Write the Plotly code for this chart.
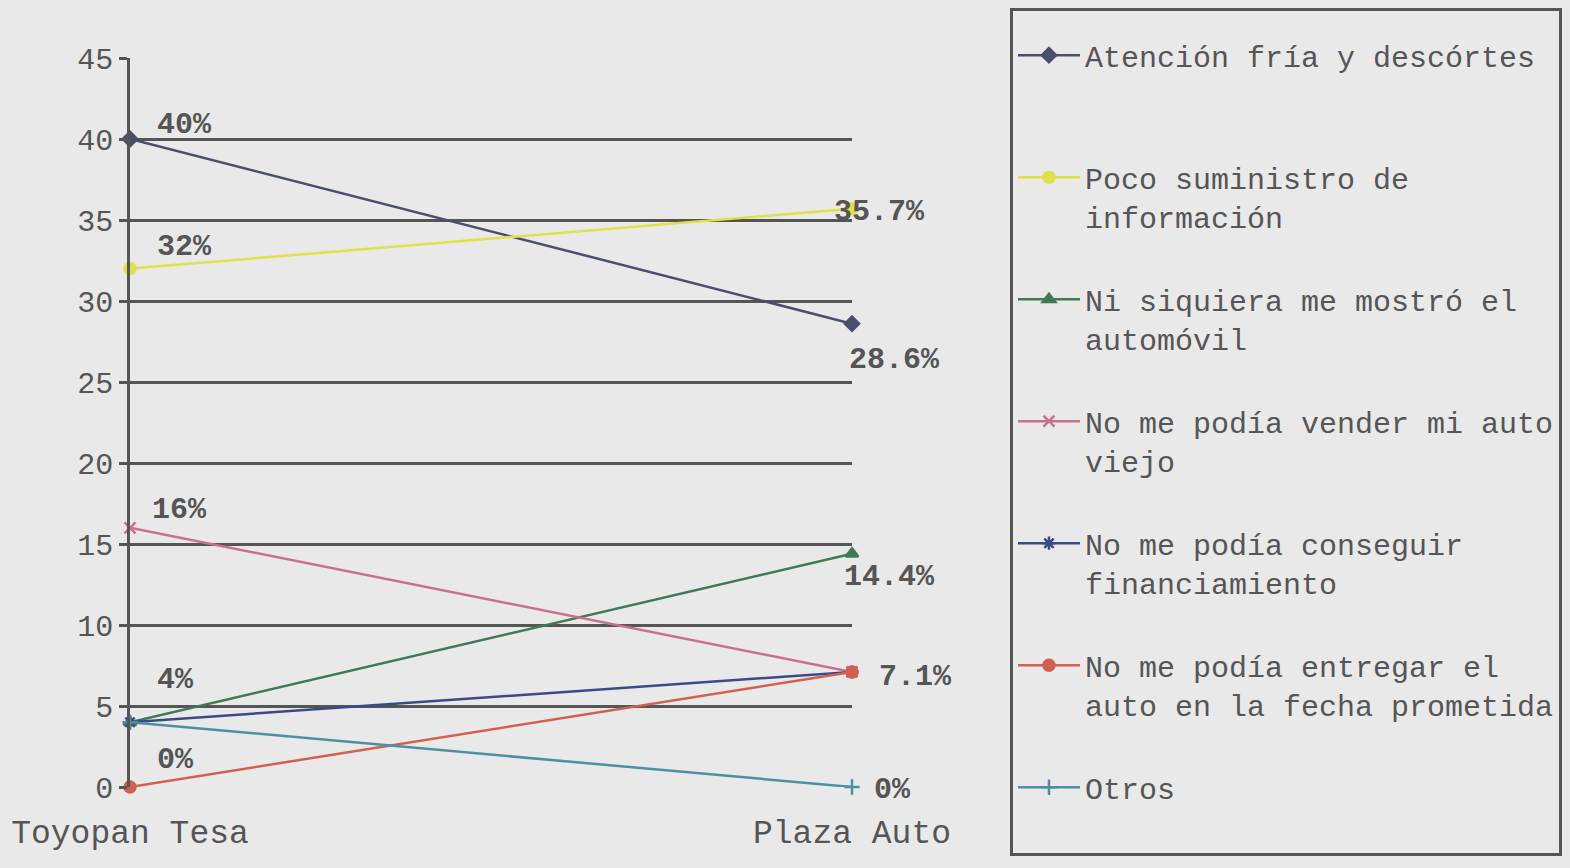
import plotly.graph_objects as go

categories = ["Toyopan Tesa", "Plaza Auto"]

series_names = [
    "Atención fría y descórtes<br>&nbsp;",
    "Poco suministro de<br>información",
    "Ni siquiera me mostró el<br>automóvil",
    "No me podía vender mi auto<br>viejo",
    "No me podía conseguir<br>financiamiento",
    "No me podía entregar el<br>auto en la fecha prometida",
    "Otros<br>&nbsp;",
]
atencion = [40, 28.6]
poco = [32, 35.7]
ni_siquiera = [4, 14.4]
vender = [16, 7.1]
financiamiento = [4, 7.1]
entregar = [0, 7.1]
otros = [4, 0]
series_values = [atencion, poco, ni_siquiera, vender, financiamiento, entregar, otros]

left_labels = ["40%", "32%", "16%", "4%", "0%"]
left_label_values = [40, 32, 16, 4, 0]
right_labels = ["35.7%", "28.6%", "14.4%", "7.1%", "0%"]
right_label_values = [35.7, 28.6, 14.4, 7.1, 0]

colors = ["#4b4e6b", "#e0e04a", "#3f7a55", "#c9708f", "#3b4a86", "#d0604f", "#4f8fa3"]
symbols = ["diamond", "circle", "triangle-up", "x-thin-open", "asterisk-open", "circle", "cross-thin-open"]

FONT = "Courier New, Liberation Mono, monospace"
TXT = "#555555"
BG = "#e9e9e9"

fig = go.Figure()
for i, (name, vals) in enumerate(zip(series_names, series_values)):
    fig.add_trace(go.Scatter(
        x=categories, y=vals, name=name, mode="lines+markers",
        legendgroup=f"g{i}",
        line=dict(color=colors[i], width=2.5),
        marker=dict(symbol=symbols[i], size=11, color=colors[i],
                    line=dict(color=colors[i], width=2.5)),
        cliponaxis=False,
    ))

left_shifts = [(25, 14), (25, 22), (20, 18), (25, 42), (25, 27)]
right_shifts = [(-20, -3), (-5, -36), (-10, -23), (25, -5), (20, -3)]
for txt, v, (dx, dy) in zip(left_labels, left_label_values, left_shifts):
    fig.add_annotation(x=categories[0], y=v, text=txt, showarrow=False,
                       xanchor="left", yanchor="middle", xshift=dx, yshift=dy,
                       font=dict(family=FONT, size=30, color=TXT, weight="bold"))
for txt, v, (dx, dy) in zip(right_labels, right_label_values, right_shifts):
    fig.add_annotation(x=categories[1], y=v, text=txt, showarrow=False,
                       xanchor="left", yanchor="middle", xshift=dx, yshift=dy,
                       font=dict(family=FONT, size=30, color=TXT, weight="bold"))

fig.update_layout(
    width=1570, height=868,
    margin=dict(l=130, r=718, t=58, b=81, autoexpand=False),
    paper_bgcolor=BG, plot_bgcolor=BG,
    font=dict(family=FONT, color=TXT, size=30),
    showlegend=True,
    legend=dict(
        x=1.2188, y=1.0686, xanchor="left", yanchor="top",
        bgcolor=BG, bordercolor="#555555", borderwidth=3,
        font=dict(family=FONT, size=30, color=TXT),
        valign="top", tracegroupgap=41, itemwidth=62,
        maxheight=866,
        title=dict(text="&nbsp;", font=dict(size=14)),
    ),
    xaxis=dict(
        range=[0, 1], showgrid=False, zeroline=False, showline=False,
        ticks="", ticklabelstandoff=22,
        tickfont=dict(family=FONT, size=33, color=TXT),
    ),
    yaxis=dict(
        range=[0, 45], tickvals=[0, 5, 10, 15, 20, 25, 30, 35, 40, 45],
        showgrid=True, gridcolor="#555555", gridwidth=2.5,
        zeroline=False, showline=True, linecolor="#555555", linewidth=2.5,
        ticks="outside", ticklen=8, tickcolor="#555555", tickwidth=2.5,
        tickfont=dict(family=FONT, size=30, color=TXT),
    ),
)

fig.write_html("out.html")
